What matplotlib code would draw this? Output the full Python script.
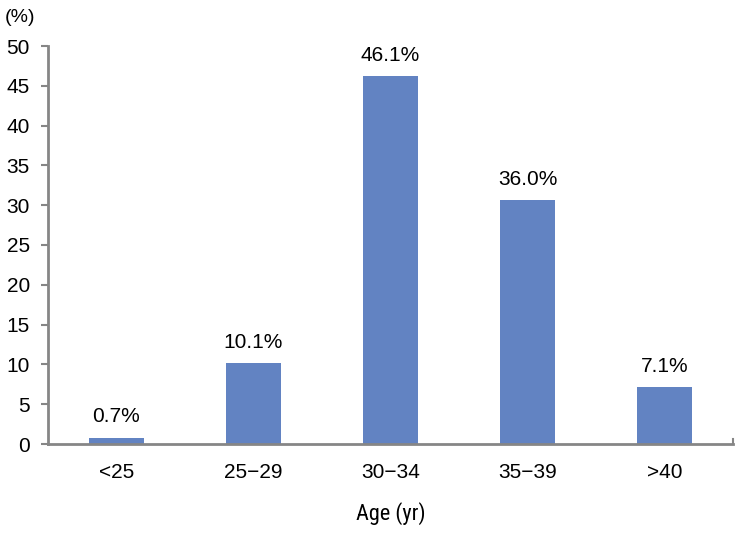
import matplotlib
matplotlib.use("Agg")
import matplotlib.pyplot as plt

# ─── Data ────────────────────────────────────────────────────────────────────
categories = ["<25", "25\u221229", "30\u221234", "35\u221239", ">40"]
values     = [0.8, 10.2, 46.2, 30.6, 7.1]
labels     = ["0.7%", "10.1%", "46.1%", "36.0%", "7.1%"]
y_ticks    = [0, 5, 10, 15, 20, 25, 30, 35, 40, 45, 50]

plt.rcParams["font.family"] = ["Liberation Sans", "DejaVu Sans"]

fig = plt.figure(figsize=(7.41, 5.35), dpi=100)
ax = fig.add_axes([48 / 741, 1 - 444 / 535, 685 / 741, 398 / 535])

grey = "#868686"
x = range(len(categories))
ax.bar(x, values, width=0.4, color="#6283C2", zorder=2)

for xi, v, lab in zip(x, values, labels):
    ax.text(xi, v + 1.4, lab, ha="center", va="bottom", fontsize=15)

ax.set_xlim(-0.5, len(categories) - 0.5)
ax.set_ylim(0, 50)
ax.set_yticks(y_ticks)
ax.set_xticks(list(x))
ax.set_xticklabels(categories, fontsize=15)
ax.tick_params(axis="y", labelsize=15, direction="out", length=5, width=1.5,
               color=grey, pad=8)
ax.tick_params(axis="x", direction="in", length=4, width=1.5, color=grey, pad=14)

for side in ("top", "right"):
    ax.spines[side].set_visible(False)
for side in ("left", "bottom"):
    ax.spines[side].set_color(grey)
    ax.spines[side].set_linewidth(2)
ax.spines["bottom"].set_zorder(3)

# small end tick on the right of the category axis
ax.plot([len(categories) - 0.5, len(categories) - 0.5], [0, 0.6],
        color=grey, lw=1.5, clip_on=False, zorder=3)

ax.set_xlabel("Age (yr)", fontsize=16, labelpad=14,
              family=["Liberation Sans Narrow", "Roboto Condensed", "Roboto", "DejaVu Sans"])
fig.text(5 / 741, 1 - 18 / 535, "(%)", fontsize=14, va="center", ha="left")

fig.savefig("out.png", dpi=100)
